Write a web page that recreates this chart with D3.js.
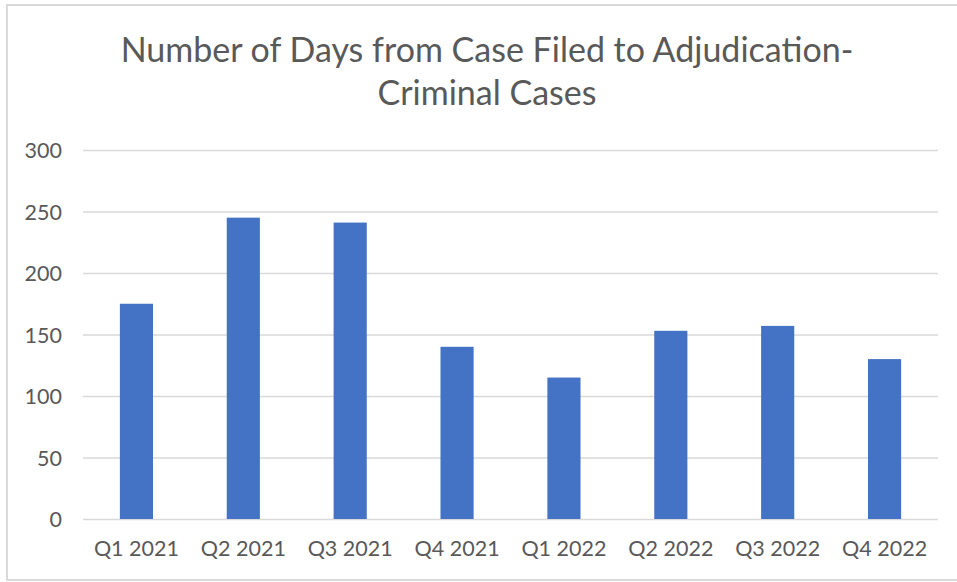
<!DOCTYPE html>
<html>
<head>
<meta charset="utf-8">
<script src="https://cdn.jsdelivr.net/npm/d3@7"></script>
<style>
  body { margin: 0; background: #fff; }
  text { font-family: Lato, "Open Sans", sans-serif; fill: #595959; }
</style>
</head>
<body>
<div id="chart"></div>
<script>
var quarters = ["Q1 2021", "Q2 2021", "Q3 2021", "Q4 2021", "Q1 2022", "Q2 2022", "Q3 2022", "Q4 2022"];
var days = [175, 245, 241, 140, 115, 153, 157, 130];
var yTicks = [0, 50, 100, 150, 200, 250, 300];
var titleLines = ["Number of Days from Case Filed to Adjudication-", "Criminal Cases"];

var W = 957, H = 582;
var margin = {top: 150, right: 19, bottom: 63, left: 83}
  , width = 938 - margin.left
  , height = 519 - margin.top;

var svg = d3.select("#chart").append("svg")
  .attr("width", W)
  .attr("height", H);

// chart area border
svg.append("rect")
  .attr("x", 7).attr("y", 5)
  .attr("width", 960).attr("height", 575)
  .attr("fill", "none")
  .attr("stroke", "#d9d9d9")
  .attr("stroke-width", 2);

var x = d3.scaleBand()
  .domain(quarters)
  .range([0, width])
  .paddingInner(0.69)
  .paddingOuter(0.345);

var y = d3.scaleLinear()
  .domain([0, 300])
  .range([height, 0]);

var main = svg.append("g")
  .attr("transform", "translate(" + margin.left + "," + margin.top + ")");

// y axis + gridlines
var yAxis = main.append("g")
  .call(d3.axisLeft(y).tickValues(yTicks).tickSize(-width).tickPadding(21));
yAxis.select(".domain").remove();
yAxis.selectAll(".tick line")
  .attr("stroke", "#d9d9d9")
  .attr("stroke-width", 1.3);
yAxis.selectAll(".tick text")
  .style("font-size", "21.5px")
  .attr("dy", "0.36em");

// bars
main.selectAll("rect.bar")
  .data(days)
  .enter().append("rect")
    .attr("class", "bar")
    .attr("x", function(d, i) { return x(quarters[i]); })
    .attr("y", function(d) { return y(d); })
    .attr("width", x.bandwidth())
    .attr("height", function(d) { return height - y(d); })
    .attr("fill", "#4472c4");

// x axis labels
var xAxis = main.append("g")
  .attr("transform", "translate(0," + height + ")")
  .call(d3.axisBottom(x).tickSize(0).tickPadding(22));
xAxis.select(".domain").remove();
xAxis.selectAll(".tick text")
  .style("font-size", "21.5px")
  .attr("dy", "0.71em");

// title
svg.append("g").selectAll("text")
  .data(titleLines)
  .enter().append("text")
    .attr("x", 487)
    .attr("y", function(d, i) { return 61.7 + i * 43.5; })
    .attr("text-anchor", "middle")
    .style("font-size", "34px")
    .text(function(d) { return d; });
</script>
</body>
</html>
